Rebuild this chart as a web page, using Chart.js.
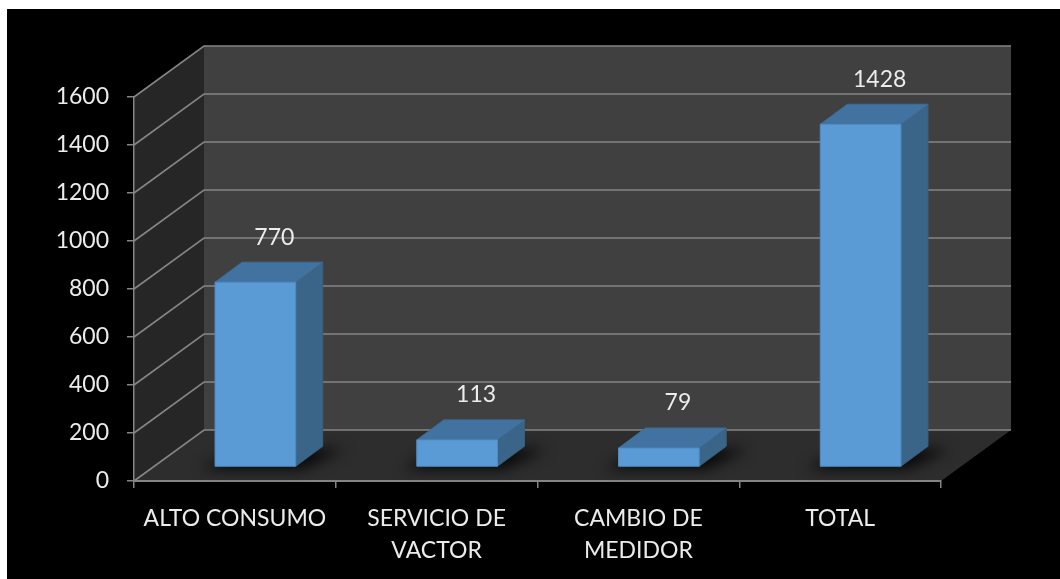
<!DOCTYPE html>
<html>
<head>
<meta charset="utf-8">
<script src="https://cdn.jsdelivr.net/npm/chart.js@4.4.1/dist/chart.umd.min.js"></script>
<style>
  html, body { margin: 0; padding: 0; background: #ffffff; }
  #wrap { width: 1060px; height: 579px; position: relative; }
  canvas { display: block; }
</style>
</head>
<body>
<div id="wrap"><canvas id="chart" width="1060" height="579"></canvas></div>
<script>
// Categories, values and axis range
const categories = [
  'ALTO CONSUMO',
  ['SERVICIO DE', 'VACTOR'],
  ['CAMBIO DE', 'MEDIDOR'],
  'TOTAL'
];
const casos = [770, 113, 79, 1428];
const yMin = 0;
const yMax = 1600;
const yStep = 200;

// 3D look: depth of the box walls and of each bar (pixels)
const WALL_DX = 70, WALL_DY = -51;
const BAR_OFF_X = 20.5, BAR_OFF_Y = -14;
const BAR_DX = 27, BAR_DY = -20;

const FONT = 'Lato, "Open Sans", sans-serif';
const FONT_SIZE = 23;
const TEXT = '#ececec';
const GRID = '#858585';

function poly(ctx, pts, fill, stroke, lw) {
  ctx.beginPath();
  ctx.moveTo(pts[0][0], pts[0][1]);
  for (let i = 1; i < pts.length; i++) ctx.lineTo(pts[i][0], pts[i][1]);
  ctx.closePath();
  if (fill) { ctx.fillStyle = fill; ctx.fill(); }
  if (stroke) { ctx.strokeStyle = stroke; ctx.lineWidth = lw || 1; ctx.stroke(); }
}

const frame3d = {
  id: 'frame3d',
  beforeDraw(chart) {
    const ctx = chart.ctx;
    const { left, right, top, bottom } = chart.chartArea;
    const y = chart.scales.y;
    const bl = left + WALL_DX;
    const br = right + WALL_DX;
    ctx.save();
    ctx.fillStyle = '#ffffff';
    ctx.fillRect(0, 0, chart.width, chart.height);
    ctx.fillStyle = '#000000';
    ctx.fillRect(7, 9, chart.width - 7, chart.height - 9);
    // side wall
    poly(ctx, [[left, top], [bl, top + WALL_DY], [bl, bottom + WALL_DY], [left, bottom]], '#262626');
    // back wall
    poly(ctx, [[bl, top + WALL_DY], [br, top + WALL_DY], [br, bottom + WALL_DY], [bl, bottom + WALL_DY]], '#404040');
    // floor
    poly(ctx, [[left, bottom], [bl, bottom + WALL_DY], [br, bottom + WALL_DY], [right, bottom]], '#2d2d2d');
    // gridlines on side and back walls
    ctx.strokeStyle = GRID;
    ctx.lineWidth = 1.6;
    for (let v = yMin; v <= yMax; v += yStep) {
      const py = y.getPixelForValue(v);
      ctx.beginPath();
      ctx.moveTo(left, py);
      ctx.lineTo(bl, py + WALL_DY);
      ctx.lineTo(br, py + WALL_DY);
      ctx.stroke();
    }
    ctx.restore();
  },
  beforeDatasetsDraw(chart) {
    const ctx = chart.ctx;
    const y = chart.scales.y;
    // bars drawn as boxes from the library's bar elements
    const meta = chart.getDatasetMeta(0);
    const y0 = y.getPixelForValue(0);
    // soft shadows on the floor
    ctx.save();
    ctx.filter = 'blur(7px)';
    meta.data.forEach((bar) => {
      const x0 = bar.x - bar.width / 2 + BAR_OFF_X;
      const x1 = bar.x + bar.width / 2 + BAR_OFF_X;
      const yb = y0 + BAR_OFF_Y;
      poly(ctx, [[x0 - 14, yb + 2], [x1 + 6, yb + 2], [x1 + BAR_DX + 22, yb + BAR_DY + 2],
                 [x0 + BAR_DX, yb + BAR_DY + 2]], 'rgba(0,0,0,0.85)');
    });
    ctx.restore();

    ctx.save();
    meta.data.forEach((bar, i) => {
      const x0 = bar.x - bar.width / 2 + BAR_OFF_X;
      const x1 = bar.x + bar.width / 2 + BAR_OFF_X;
      const yt = bar.y + BAR_OFF_Y;
      const yb = bar.base + BAR_OFF_Y;
      // side
      poly(ctx, [[x1, yt], [x1 + BAR_DX, yt + BAR_DY], [x1 + BAR_DX, yb + BAR_DY], [x1, yb]], '#3a6588', '#35607f', 1);
      // top
      poly(ctx, [[x0, yt], [x0 + BAR_DX, yt + BAR_DY], [x1 + BAR_DX, yt + BAR_DY], [x1, yt]], '#4273a0', '#3d6c97', 1);
      // front
      poly(ctx, [[x0, yt], [x1, yt], [x1, yb], [x0, yb]], '#5b9bd5', '#4f8cc4', 1);
      // value label
      ctx.fillStyle = TEXT;
      ctx.font = FONT_SIZE + 'px ' + FONT;
      ctx.textAlign = 'center';
      ctx.textBaseline = 'middle';
      ctx.fillText(String(casos[i]), (x0 + x1) / 2 + 19, yt - 45);
    });
    ctx.restore();
    return false;
  }
};

new Chart(document.getElementById('chart'), {
  type: 'bar',
  data: {
    labels: categories,
    datasets: [{
      label: 'Casos',
      data: casos,
      backgroundColor: '#5b9bd5',
      barPercentage: 0.4,
      categoryPercentage: 1.0
    }]
  },
  plugins: [frame3d],
  options: {
    responsive: false,
    animation: false,
    devicePixelRatio: 1,
    layout: { padding: { top: 97, right: 119, bottom: 0, left: 0 } },
    plugins: {
      legend: { display: false },
      tooltip: { enabled: false },
      title: { display: false }
    },
    scales: {
      x: {
        afterFit(scale) { scale.height = 98; },
        grid: {
          offset: true,
          drawOnChartArea: false,
          drawTicks: true,
          tickLength: 7,
          color: GRID,
          lineWidth: 1.5
        },
        border: { display: true, color: GRID, width: 2 },
        ticks: {
          color: TEXT,
          font: { family: FONT, size: FONT_SIZE, lineHeight: 1.4 },
          padding: 14,
          maxRotation: 0,
          autoSkip: false
        }
      },
      y: {
        min: yMin,
        max: yMax,
        afterFit(scale) { scale.width = 134; },
        grid: {
          drawOnChartArea: false,
          drawTicks: true,
          tickLength: 7,
          color: GRID,
          lineWidth: 1.5
        },
        border: { display: true, color: GRID, width: 1.5 },
        ticks: {
          stepSize: yStep,
          color: TEXT,
          font: { family: FONT, size: FONT_SIZE },
          padding: 18,
          callback: (v) => String(v)
        }
      }
    }
  }
});
</script>
</body>
</html>
